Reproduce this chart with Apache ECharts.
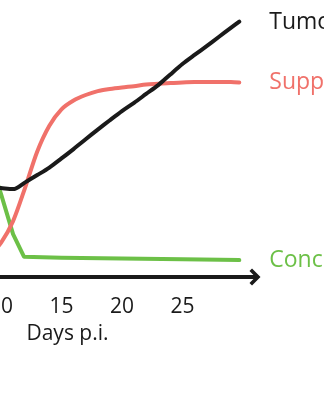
<!DOCTYPE html>
<html>
<head>
<meta charset="utf-8">
<script src="https://cdn.jsdelivr.net/npm/echarts@6/dist/echarts.min.js"></script>
<style>
  html, body { margin: 0; padding: 0; background: #ffffff; overflow: hidden; width: 324px; height: 400px; position: relative; }
  /* The plot starts at day 0, left of the visible window; only days ~10-31 show */
  #chart { position: absolute; left: -120px; top: 0; width: 444px; height: 400px; }
</style>
</head>
<body>
<div id="chart"></div>
<script>
// Days post infection shared by the tumour and suppression curves
const days = [0, 5, 8, 9, 10, 11, 12, 13, 14, 15, 16, 17, 18, 19, 20, 21, 22, 23, 24, 25, 26, 27, 28, 29, 29.7];
const tumorValues = [40, 38, 35.5, 34.6, 34.2, 33.8, 36.4, 39.2, 42.1, 45.6, 49.2, 53.0, 56.7, 60.3, 63.8, 67.0, 70.4, 73.8, 77.9, 81.9, 85.4, 88.8, 92.3, 95.8, 98.2];
const suppressionValues = [2, 2.5, 4.5, 7.8, 13.1, 21.5, 34.4, 48.3, 58.2, 64.5, 67.9, 70.0, 71.5, 72.3, 72.9, 73.4, 74.0, 74.3, 74.6, 74.8, 75.0, 75.0, 75.0, 75.0, 74.8];

// Concentration curve has its own sampling (sharp drop, then a plateau)
const concDays = [0, 5, 8, 9, 10, 11, 11.9, 15, 20, 25, 29.7];
const concValues = [98, 90, 60, 46, 32, 16.5, 7.8, 7.4, 7.1, 6.8, 6.5];

const tickLabels = [0, 5, 10, 15, 20, 25];
const seriesNames = ['Tumor', 'Suppression', 'Concentration'];

const pairs = (xs, ys) => xs.map((x, i) => [x, ys[i]]);

const FONT = '"Open Sans", "Noto Sans", sans-serif';
const INK = '#1a1a1a';
const SALMON = '#f0716a';
const GREEN = '#6cc047';

const chart = echarts.init(document.getElementById('chart'), null, { renderer: 'canvas' });

function lineSeries(name, data, color, smooth, z, labelOffset) {
  return {
    type: 'line',
    name: name,
    data: data,
    smooth: smooth,
    showSymbol: false,
    symbol: 'none',
    clip: false,
    z: z,
    lineStyle: { color: color, width: 4, cap: 'round', join: 'round' },
    endLabel: {
      show: true,
      formatter: (p) => p.seriesName,
      distance: 30,
      offset: labelOffset,
      color: color,
      fontFamily: FONT,
      fontSize: 23
    },
    emphasis: { disabled: true }
  };
}

chart.setOption({
  animation: false,
  backgroundColor: '#ffffff',
  grid: { left: 0, right: 69, top: 17, bottom: 123, outerBoundsMode: 'none', containLabel: false },
  xAxis: {
    type: 'value',
    min: 0,
    max: 31,
    interval: 5,
    name: 'Days p.i.',
    nameLocation: 'middle',
    nameGap: 47,
    nameTextStyle: { color: INK, fontFamily: FONT, fontSize: 21 },
    axisLine: {
      show: true,
      lineStyle: { color: INK, width: 4 },
      symbol: ['none', 'path://M0,10 L10,0 L20,10 L17,13 L10,6 L3,13 Z'],
      symbolSize: [17, 12]
    },
    axisTick: { show: false },
    splitLine: { show: false },
    axisLabel: {
      color: INK,
      fontFamily: FONT,
      fontSize: 21,
      margin: 20,
      formatter: (v) => (tickLabels.includes(v) ? String(v) : '')
    }
  },
  yAxis: {
    type: 'value',
    min: 0,
    max: 100,
    show: false
  },
  series: [
    lineSeries(seriesNames[2], pairs(concDays, concValues), GREEN, false, 2, [0, 0]),
    lineSeries(seriesNames[1], pairs(days, suppressionValues), SALMON, 0.3, 3, [0, 0]),
    lineSeries(seriesNames[0], pairs(days, tumorValues), INK, 0.3, 4, [0, 1])
  ]
});
</script>
</body>
</html>
